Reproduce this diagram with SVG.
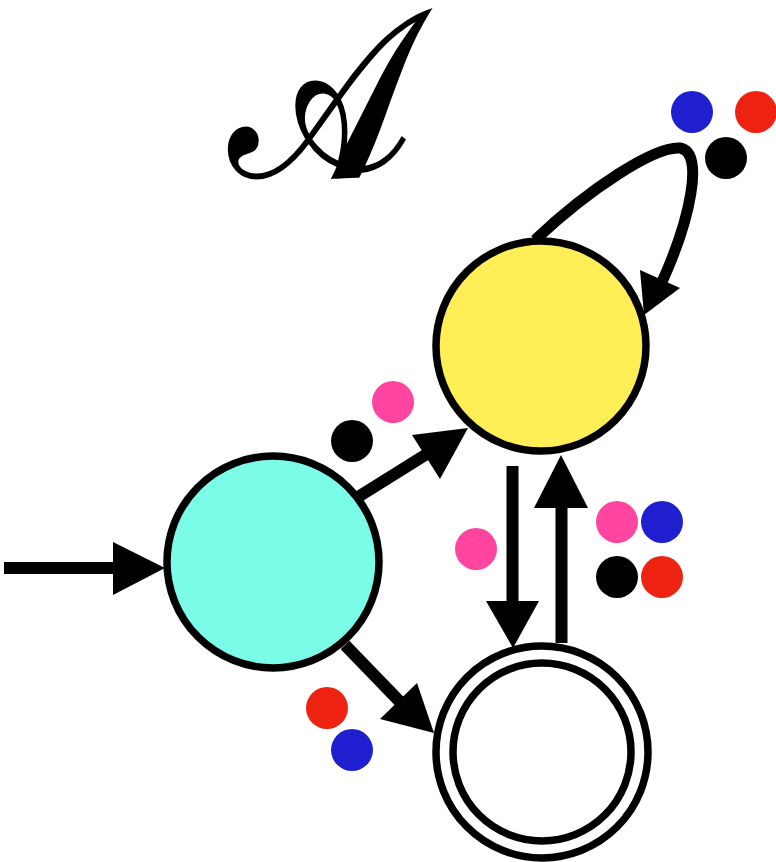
<svg xmlns="http://www.w3.org/2000/svg" width="776" height="862" viewBox="0 0 776 862">
<defs>
<style>
.st{stroke:#000;stroke-width:7.5}
.sh{stroke:#000;stroke-width:12;fill:none}
.hd{fill:#000}
.k{fill:#000}.p{fill:#FF459F}.b{fill:#1F1FCF}.r{fill:#EE2211}
.title{font-family:"DejaVu Serif","Noto Sans",serif;font-size:236px;stroke:#000;stroke-width:3}
</style>
</defs>
<rect width="776" height="862" fill="#fff"/>
<text class="title" transform="translate(320,176) scale(0.82,1)" x="0" y="0" text-anchor="middle">𝒜</text>
<g id="connectors">
<g id="init"><line class="sh" x1="4" y1="568" x2="118" y2="568"/><polygon class="hd" points="113,542 165,568 113,595"/></g>
<g id="c-y"><line class="sh" x1="358" y1="497" x2="430" y2="452"/><polygon class="hd" points="412,435 468,428 440,479"/></g>
<g id="c-d"><line class="sh" x1="345" y1="645" x2="405" y2="707"/><polygon class="hd" points="380,719 434,733 417,683"/></g>
<g id="y-d"><line class="sh" x1="512.5" y1="466" x2="512.5" y2="605"/><polygon class="hd" points="486,601 539,601 513,648"/></g>
<g id="d-y"><line class="sh" x1="561.5" y1="643" x2="561.5" y2="504"/><polygon class="hd" points="534,508 588,508 561,455"/></g>
<g id="loop"><path class="sh" style="stroke-width:11" d="M535,240 C590,188 655,146 680,148 C705,152 690,220 662,282"/><polygon class="hd" points="640,270 680,288 644,315"/></g>
</g>
<g id="labels">
<circle class="k" cx="352" cy="441" r="21"/><circle class="p" cx="393" cy="402" r="21"/>
<circle class="p" cx="476" cy="549" r="21"/>
<circle class="p" cx="617" cy="522" r="21"/><circle class="b" cx="662" cy="522" r="21"/>
<circle class="k" cx="617" cy="577" r="21"/><circle class="r" cx="662" cy="577" r="21"/>
<circle class="r" cx="327" cy="708" r="21"/><circle class="b" cx="352" cy="750" r="21"/>
<circle class="b" cx="692" cy="112" r="21"/><circle class="r" cx="756" cy="112" r="21"/><circle class="k" cx="726" cy="158" r="21"/>
</g>
<g id="q0"><circle class="st" cx="273" cy="562" r="106" fill="#7AFCE8"/></g>
<g id="q1"><circle class="st" cx="541" cy="346" r="105" fill="#FFEE55"/></g>
<g id="q2"><circle class="st" cx="542" cy="752" r="106" fill="#fff"/><circle class="st" cx="542" cy="752" r="89" fill="none"/></g>
</svg>
